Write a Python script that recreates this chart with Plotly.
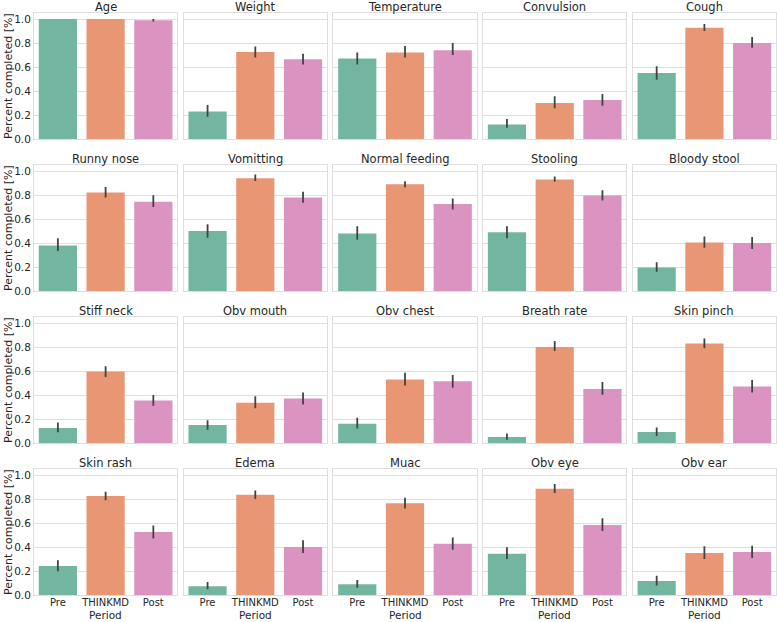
import plotly.graph_objects as go
from plotly.subplots import make_subplots

names = ["Age", "Weight", "Temperature", "Convulsion", "Cough",
         "Runny nose", "Vomitting", "Normal feeding", "Stooling", "Bloody stool",
         "Stiff neck", "Obv mouth", "Obv chest", "Breath rate", "Skin pinch",
         "Skin rash", "Edema", "Muac", "Obv eye", "Obv ear"]
periods = ["Pre", "THINKMD", "Post"]

pre_mean = [1.00, 0.23, 0.67, 0.12, 0.55, 0.38, 0.50, 0.48, 0.49, 0.195,
            0.125, 0.15, 0.16, 0.05, 0.092, 0.242, 0.072, 0.089, 0.344, 0.117]
pre_lo = [1.00, 0.186, 0.62, 0.094, 0.494, 0.333, 0.444, 0.428, 0.44, 0.16,
          0.09, 0.11, 0.12, 0.028, 0.058, 0.197, 0.047, 0.061, 0.30, 0.08]
pre_hi = [1.00, 0.283, 0.72, 0.167, 0.606, 0.44, 0.556, 0.54, 0.54, 0.24,
          0.17, 0.19, 0.21, 0.08, 0.13, 0.29, 0.108, 0.125, 0.397, 0.16]

thk_mean = [1.00, 0.725, 0.72, 0.30, 0.928, 0.82, 0.94, 0.89, 0.93, 0.405,
            0.595, 0.335, 0.53, 0.80, 0.83, 0.825, 0.835, 0.764, 0.886, 0.35]
thk_lo = [1.00, 0.68, 0.68, 0.256, 0.90, 0.78, 0.917, 0.865, 0.91, 0.36,
          0.55, 0.29, 0.48, 0.767, 0.79, 0.79, 0.80, 0.72, 0.85, 0.30]
thk_hi = [1.00, 0.77, 0.775, 0.356, 0.958, 0.867, 0.97, 0.915, 0.955, 0.455,
          0.64, 0.39, 0.585, 0.85, 0.87, 0.86, 0.87, 0.81, 0.925, 0.406]

post_mean = [0.99, 0.665, 0.74, 0.325, 0.80, 0.744, 0.78, 0.725, 0.795, 0.40,
             0.355, 0.37, 0.514, 0.45, 0.47, 0.525, 0.40, 0.428, 0.583, 0.358]
post_lo = [0.98, 0.62, 0.70, 0.278, 0.76, 0.70, 0.736, 0.68, 0.755, 0.35,
           0.31, 0.32, 0.46, 0.403, 0.42, 0.47, 0.35, 0.378, 0.533, 0.308]
post_hi = [1.00, 0.71, 0.80, 0.375, 0.85, 0.797, 0.828, 0.77, 0.84, 0.45,
           0.40, 0.42, 0.567, 0.508, 0.525, 0.58, 0.456, 0.48, 0.64, 0.41]

yticks = [0.0, 0.2, 0.4, 0.6, 0.8, 1.0]
colors = ["#72b6a1", "#e99675", "#db93c1"]
TXT = "#262626"
GRID = "#dedede"
FONT = "DejaVu Sans"

W, H = 777, 622
ML, MR, MT, MB = 34, 1, 13, 27
pw = W - ML - MR
ph = H - MT - MB

fig = make_subplots(rows=4, cols=5,
                    horizontal_spacing=6.5 / pw,
                    vertical_spacing=26 / ph)

for i, name in enumerate(names):
    r = i // 5 + 1
    c = i % 5 + 1
    means = [pre_mean[i], thk_mean[i], post_mean[i]]
    los = [pre_lo[i], thk_lo[i], post_lo[i]]
    his = [pre_hi[i], thk_hi[i], post_hi[i]]
    fig.add_trace(go.Bar(
        x=[0, 1, 2], y=means, width=0.8,
        marker=dict(color=colors, line=dict(width=0)),
        error_y=dict(type="data", symmetric=False,
                     array=[h - m for h, m in zip(his, means)],
                     arrayminus=[m - l for m, l in zip(means, los)],
                     color="#424242", thickness=1.8, width=0),
        showlegend=False, hoverinfo="skip"), row=r, col=c)
    fig.update_xaxes(row=r, col=c, range=[-0.5, 2.5], tickvals=[0, 1, 2],
                     ticktext=periods, showticklabels=(r == 4), showgrid=False,
                     zeroline=False, showline=True, mirror=True, linecolor=GRID,
                     linewidth=1, ticks="", automargin=False,
                     ticklabelstandoff=-2,
                     tickfont=dict(family=FONT, size=10, color=TXT))
    fig.update_yaxes(row=r, col=c, range=[0, 1.05], tickvals=yticks,
                     ticktext=[f"{v:.1f}" for v in yticks],
                     showticklabels=(c == 1), showgrid=True, gridcolor=GRID,
                     gridwidth=1, zeroline=False, showline=True, mirror=True,
                     linecolor=GRID, linewidth=1, ticks="", automargin=False,
                     tickfont=dict(family=FONT, size=10.5, color=TXT))

annotations = []
for i, name in enumerate(names):
    r = i // 5 + 1
    c = i % 5 + 1
    idx = i + 1
    xa = fig.layout["xaxis" + ("" if idx == 1 else str(idx))]
    ya = fig.layout["yaxis" + ("" if idx == 1 else str(idx))]
    xd = xa.domain
    yd = ya.domain
    annotations.append(dict(text=name, x=(xd[0] + xd[1]) / 2, y=yd[1],
                            xref="paper", yref="paper", xanchor="center",
                            yanchor="bottom", yshift=-2, borderpad=0,
                            showarrow=False,
                            font=dict(family=FONT, size=11.5, color=TXT)))
    if c == 1:
        annotations.append(dict(text="Percent completed [%]",
                                x=(8 - ML) / pw, y=(yd[0] + yd[1]) / 2,
                                xref="paper", yref="paper", xanchor="center",
                                yanchor="middle", textangle=-90, showarrow=False,
                                font=dict(family=FONT, size=11, color=TXT)))
    if r == 4:
        annotations.append(dict(text="Period", x=(xd[0] + xd[1]) / 2,
                                y=-(H - (H - MB)) / ph, xref="paper",
                                yref="paper", xanchor="center", yanchor="bottom",
                                borderpad=0, showarrow=False,
                                font=dict(family=FONT, size=10.5, color=TXT)))

fig.update_layout(width=W, height=H,
                  margin=dict(l=ML, r=MR, t=MT, b=MB, autoexpand=False),
                  paper_bgcolor="white", plot_bgcolor="white",
                  bargap=0.2, annotations=annotations,
                  font=dict(family=FONT, color=TXT))

fig.write_html("out.html", config={"displayModeBar": False},
               post_script="document.body.style.margin='0';"
                           "document.body.style.padding='0';"
                           "document.body.style.overflow='hidden';")
